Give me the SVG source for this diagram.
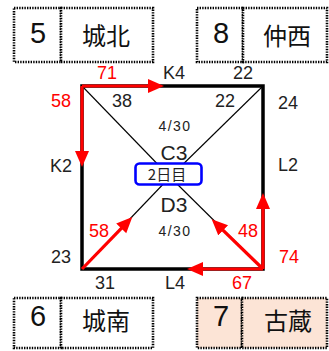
<svg xmlns="http://www.w3.org/2000/svg" width="329" height="351" viewBox="0 0 329 351">
<defs>
<style>
.cell{fill:#fff;stroke:#000;stroke-width:2.6;stroke-dasharray:1.4 1.2}
.pink{fill:#FCE4D6}
.num{font-family:"Liberation Sans",Arial,sans-serif;font-size:29px;fill:#111;text-anchor:middle}
.name{font-family:"Noto Sans CJK JP",sans-serif;font-size:24px;fill:#111;text-anchor:middle}
.lbl{font-family:"Liberation Sans",Arial,sans-serif;font-size:18px;fill:#222;text-anchor:middle}
.red{fill:#FF0000}
.date{font-family:"Liberation Sans",Arial,sans-serif;font-size:14px;fill:#222;text-anchor:middle;letter-spacing:1.5px}
.big{font-family:"Liberation Sans",Arial,sans-serif;font-size:21px;fill:#222;text-anchor:middle}
.arr{stroke:#FF0000;stroke-width:3.2;fill:none;marker-end:url(#ah)}
.diag{stroke:#000;stroke-width:1.1}
</style>
<marker id="ah" markerUnits="userSpaceOnUse" markerWidth="17" markerHeight="15" refX="4" refY="7" orient="auto">
<path d="M0,0 L16,7 L0,14 z" fill="#FF0000"/>
</marker>
</defs>

<g id="node-5">
<rect class="cell" x="14" y="8" width="47" height="54"/>
<rect class="cell" x="61" y="8" width="92" height="54"/>
<text class="num" x="38" y="43">5</text>
<text class="name" x="106" y="45">城北</text>
</g>
<g id="node-8">
<rect class="cell" x="197" y="8" width="46" height="54"/>
<rect class="cell" x="243" y="8" width="84" height="54"/>
<text class="num" x="221" y="43">8</text>
<text class="name" x="287" y="45">仲西</text>
</g>
<g id="node-6">
<rect class="cell" x="14" y="298" width="47" height="50"/>
<rect class="cell" x="61" y="298" width="92" height="50"/>
<text class="num" x="38" y="326">6</text>
<text class="name" x="106" y="330">城南</text>
</g>
<g id="node-7">
<rect class="cell pink" x="197" y="298" width="45" height="50"/>
<rect class="cell pink" x="242" y="298" width="85" height="50"/>
<text class="num" x="221" y="326">7</text>
<text class="name" x="288" y="330">古蔵</text>
</g>

<g id="connectors">
<line class="diag" x1="82" y1="86" x2="170" y2="177"/>
<line class="diag" x1="263" y1="86" x2="170" y2="177"/>
<line class="diag" x1="82" y1="269" x2="170" y2="177"/>
<line class="diag" x1="263" y1="269" x2="170" y2="177"/>
<rect x="82" y="86" width="181" height="183" fill="none" stroke="#000" stroke-width="3.5"/>
<line class="arr" x1="82" y1="86" x2="152" y2="86"/>
<line class="arr" x1="82" y1="86" x2="82" y2="155"/>
<line class="arr" x1="82" y1="269" x2="124" y2="225.6"/>
<line class="arr" x1="263" y1="269" x2="220.3" y2="227.6"/>
<line class="arr" x1="263" y1="269" x2="263" y2="205"/>
<line class="arr" x1="263" y1="269" x2="199" y2="269"/>
</g>

<g id="node-day">
<rect x="135.5" y="163.5" width="66" height="21" rx="4" fill="#fff" stroke="#0000FF" stroke-width="2.6"/>
<text x="167" y="180" font-family="'Noto Sans CJK JP',sans-serif" font-size="15" fill="#222" text-anchor="middle">2日目</text>
</g>

<g id="labels">
<text class="lbl red" x="107" y="79">71</text>
<text class="lbl" x="174" y="79">K4</text>
<text class="lbl" x="243" y="79">22</text>
<text class="lbl red" x="61" y="107">58</text>
<text class="lbl" x="122" y="107">38</text>
<text class="lbl" x="225" y="107">22</text>
<text class="lbl" x="288" y="109">24</text>
<text class="date" x="175" y="131">4/30</text>
<text class="big" x="174" y="160">C3</text>
<text class="lbl" x="61" y="172">K2</text>
<text class="lbl" x="288" y="171">L2</text>
<text class="big" x="174" y="212">D3</text>
<text class="lbl red" x="99" y="237">58</text>
<text class="date" x="175" y="236">4/30</text>
<text class="lbl red" x="248" y="237">48</text>
<text class="lbl red" x="289" y="263">74</text>
<text class="lbl" x="61" y="263">23</text>
<text class="lbl" x="105" y="289">31</text>
<text class="lbl" x="175" y="289">L4</text>
<text class="lbl red" x="242" y="289">67</text>
</g>
</svg>
